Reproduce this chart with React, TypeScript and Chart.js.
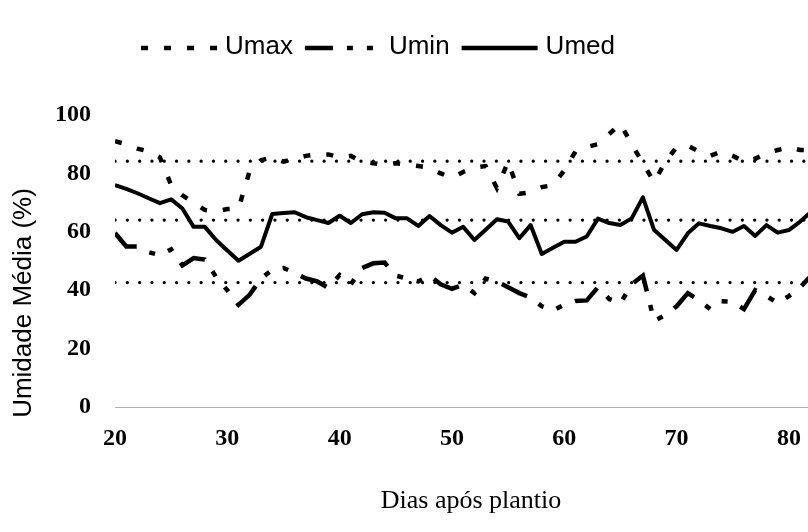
import { useEffect, useRef } from "react";
import { Chart, registerables } from "chart.js";

Chart.register(...registerables);

// Days after planting
const days = [
  20, 21, 22, 23, 24, 25, 26, 27, 28, 29, 30, 31, 32, 33, 34, 35, 36, 37, 38, 39, 40,
  41, 42, 43, 44, 45, 46, 47, 48, 49, 50, 51, 52, 53, 54, 55, 56, 57, 58, 59, 60,
  61, 62, 63, 64, 65, 66, 67, 68, 69, 70, 71, 72, 73, 74, 75, 76, 77, 78, 79, 80,
  81, 82,
];

// Maximum relative humidity (%)
const umax = [
  91, 90, 88.5, 87.5, 85.5, 76, 72.5, 70, 67.5, 67, 67.8, 68, 81, 84.5, 85.5, 84, 85, 86, 86.5, 86.5, 85.5,
  86, 84, 83.5, 83, 83.5, 83, 82.5, 82, 80, 78.5, 80.5, 82, 82.5, 75, 84, 73, 73.5, 75.3, 76, 81,
  87.5, 89, 90, 93.5, 97, 90, 83.5, 77, 84, 89, 89.5, 87.5, 86, 87.5, 86, 84, 85, 87, 88, 89,
  88, 88,
];

// Minimum relative humidity (%)
const umin = [
  59.6, 55, 55, 53, 52, 54, 48.5, 51, 50.5, 44.5, 40, 35, 38.5, 44, 47, 47.6, 46, 44, 43, 40.8, 45.2,
  42, 47.6, 49.2, 49.5, 45, 44, 43, 45, 42, 40.5, 41.8, 39, 44, 43, 41, 39, 37.5, 34.5, 33, 35,
  36.3, 36.5, 41, 37, 35.5, 42, 45, 29.5, 31.5, 34.5, 39, 36.5, 33.5, 36.2, 36, 33.5, 40, 38, 35.6, 38,
  41, 45,
];

// Mean relative humidity (%)
const umed = [
  76, 74.7, 73.2, 71.5, 69.8, 71.1, 68, 61.7, 61.7, 57.2, 53.6, 50.1, 52.5, 54.9, 66.1, 66.4, 66.7, 65, 64, 63, 65.5,
  63, 66, 66.7, 66.5, 64.6, 64.6, 62, 65.4, 62.3, 59.7, 61.7, 57.2, 60.7, 64.3, 63.5, 57.8, 62.3, 52.4, 54.5, 56.6,
  56.6, 58.4, 64.5, 63, 62.3, 64.6, 71.8, 60.6, 57.2, 53.8, 59.5, 62.9, 62, 61.2, 60, 62, 58.6, 62.3, 59.7, 60.6,
  63.5, 66.9,
];

// Period averages drawn as dotted reference lines
const avgMax = 84.2;
const avgMed = 64;
const avgMin = 42.6;

const seriesNames = ["Umax", "Umin", "Umed"];
const xTitle = "Dias após plantio";
const yTitle = "Umidade Média (%)";

const umaxDash = [7, 16];
const uminDash = [28, 14, 6, 14, 6, 14];

const serif = '"Liberation Serif", "Times New Roman", serif';
const sans = '"Liberation Sans", Arial, sans-serif';

const toPoints = (ys: number[]) => days.map((d, i) => ({ x: d, y: ys[i] }));
const flat = (v: number) => [
  { x: days[0], y: v },
  { x: days[days.length - 1], y: v },
];

const textPlugin = {
  id: "textPlugin",
  afterDraw(chart: any) {
    const ctx = chart.ctx as CanvasRenderingContext2D;
    ctx.save();
    ctx.fillStyle = "#000";
    ctx.strokeStyle = "#000";

    // legend row
    const legendY = 47;
    const symLen = 76;
    const symGap = 8;
    const itemGap = 12;
    ctx.font = `26px ${sans}`;
    const dashes = [umaxDash, uminDash, []];
    const widths = seriesNames.map((n) => ctx.measureText(n).width);
    const total =
      widths.reduce((a, w) => a + w, 0) + seriesNames.length * (symLen + symGap) + (seriesNames.length - 1) * itemGap;
    let x = 378 - total / 2;
    seriesNames.forEach((name, i) => {
      ctx.beginPath();
      ctx.lineWidth = 4.5;
      ctx.lineCap = "butt";
      ctx.setLineDash(dashes[i]);
      ctx.moveTo(x, legendY + 1);
      ctx.lineTo(x + symLen, legendY + 1);
      ctx.stroke();
      ctx.setLineDash([]);
      x += symLen + symGap;
      ctx.textAlign = "left";
      ctx.textBaseline = "middle";
      ctx.fillText(name, x, legendY);
      x += widths[i] + itemGap;
    });

    // x axis title
    ctx.font = `26px ${serif}`;
    ctx.textAlign = "center";
    ctx.textBaseline = "middle";
    ctx.fillText(xTitle, 471, 501);

    // y axis title
    ctx.translate(24, 303);
    ctx.rotate(-Math.PI / 2);
    ctx.font = `26px ${sans}`;
    ctx.fillText(yTitle, 0, 0);
    ctx.restore();
  },
};

export default function App() {
  const canvasRef = useRef<HTMLCanvasElement | null>(null);

  useEffect(() => {
    const canvas = canvasRef.current;
    if (!canvas) return;
    const dotted = {
      borderColor: "#000",
      borderWidth: 3.2,
      borderDash: [0.1, 12.2],
      borderCapStyle: "round" as const,
      pointRadius: 0,
      fill: false,
    };
    const chart = new Chart(canvas, {
      type: "line",
      data: {
        datasets: [
          { label: "avgMax", data: flat(avgMax), ...dotted },
          { label: "avgMed", data: flat(avgMed), ...dotted },
          { label: "avgMin", data: flat(avgMin), ...dotted },
          {
            label: seriesNames[0],
            data: toPoints(umax),
            borderColor: "#000",
            borderWidth: 4.5,
            borderDash: umaxDash,
            pointRadius: 0,
            tension: 0,
            fill: false,
          },
          {
            label: seriesNames[1],
            data: toPoints(umin),
            borderColor: "#000",
            borderWidth: 4.5,
            borderDash: uminDash,
            pointRadius: 0,
            tension: 0,
            fill: false,
          },
          {
            label: seriesNames[2],
            data: toPoints(umed),
            borderColor: "#000",
            borderWidth: 4,
            borderJoinStyle: "round",
            pointRadius: 0,
            tension: 0,
            fill: false,
          },
        ],
      },
      options: {
        animation: false,
        responsive: false,
        devicePixelRatio: 1,
        layout: { padding: { top: 115, left: 0, right: 0, bottom: 0 } },
        plugins: {
          legend: { display: false },
          tooltip: { enabled: false },
        },
        scales: {
          x: {
            type: "linear",
            min: 20,
            max: 81.7,
            grid: { display: false, drawTicks: false },
            border: { display: true, color: "#b0b0b0", width: 1, dash: [2, 5] },
            ticks: {
              stepSize: 10,
              includeBounds: false,
              padding: 17,
              color: "#000",
              font: { family: serif, size: 24, weight: "bold" },
            },
            afterFit: (s: any) => {
              s.height = 125;
              s.paddingLeft = 0;
              s.paddingRight = 0;
            },
          },
          y: {
            min: 0,
            max: 100,
            grid: { display: false, drawTicks: false },
            border: { display: false },
            ticks: {
              stepSize: 20,
              padding: 24,
              color: "#000",
              font: { family: serif, size: 24, weight: "bold" },
            },
            afterFit: (s: any) => {
              s.width = 115;
            },
          },
        },
      },
      plugins: [textPlugin],
    });
    return () => chart.destroy();
  }, []);

  return (
    <div style={{ position: "fixed", left: 0, top: 0, width: 808, height: 532, background: "#fff" }}>
      <canvas ref={canvasRef} width={808} height={532} style={{ width: 808, height: 532 }} />
    </div>
  );
}
